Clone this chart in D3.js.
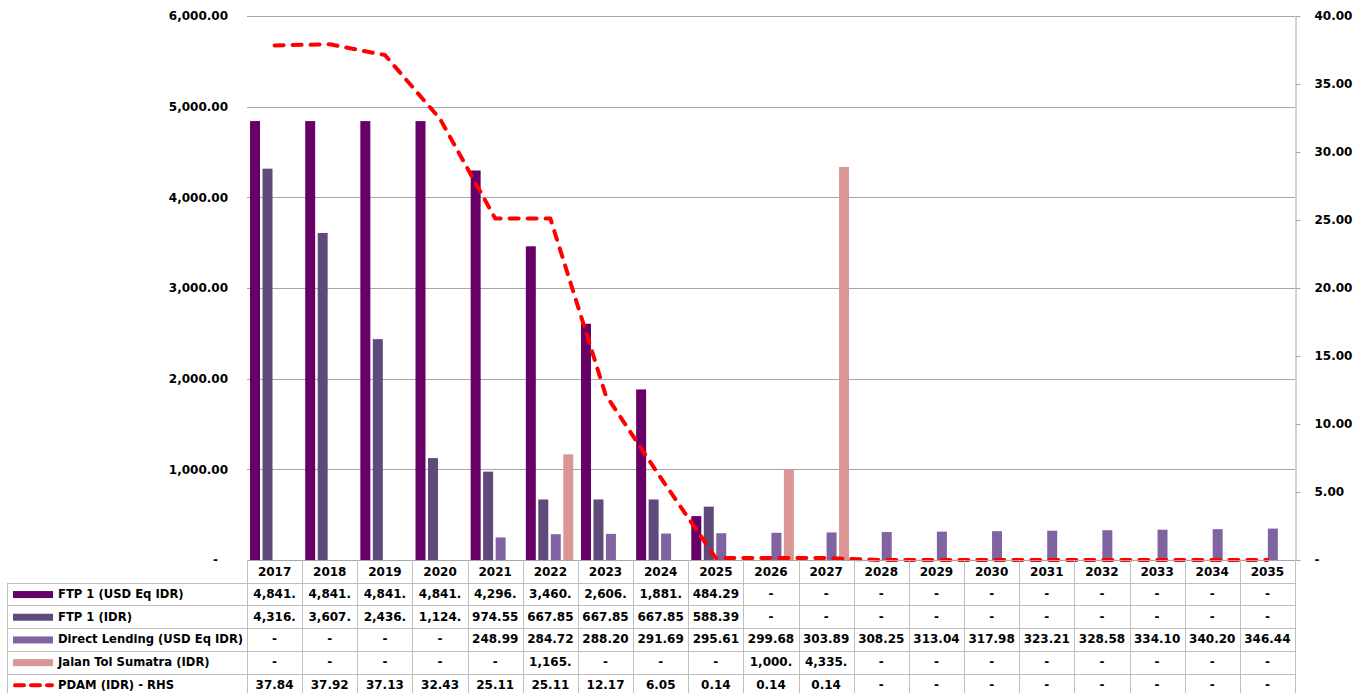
<!DOCTYPE html>
<html>
<head>
<meta charset="utf-8">
<script src="https://cdn.jsdelivr.net/npm/d3@7/dist/d3.min.js"></script>
<style>
  html, body { margin: 0; padding: 0; background: #fff; }
  svg { display: block; font-family: "DejaVu Sans", Verdana, sans-serif; font-weight: bold; }
</style>
</head>
<body>
<div id="chart"></div>
<script>
// ── Data ────────────────────────────────────────────────────────────────────
const years = ["2017","2018","2019","2020","2021","2022","2023","2024","2025","2026",
               "2027","2028","2029","2030","2031","2032","2033","2034","2035"];

const ftpUsd   = [4841.0, 4841.0, 4841.0, 4841.0, 4296.0, 3460.0, 2606.0, 1881.0, 484.29, 0, 0, 0, 0, 0, 0, 0, 0, 0, 0];
const ftpIdr   = [4316.0, 3607.0, 2436.0, 1124.0, 974.55, 667.85, 667.85, 667.85, 588.39, 0, 0, 0, 0, 0, 0, 0, 0, 0, 0];
const directLn = [0, 0, 0, 0, 248.99, 284.72, 288.20, 291.69, 295.61, 299.68, 303.89, 308.25, 313.04, 317.98, 323.21, 328.58, 334.10, 340.20, 346.44];
const jalanTol = [0, 0, 0, 0, 0, 1165.0, 0, 0, 0, 1000.0, 4335.0, 0, 0, 0, 0, 0, 0, 0, 0];
const pdam     = [37.84, 37.92, 37.13, 32.43, 25.11, 25.11, 12.17, 6.05, 0.14, 0.14, 0.14, 0, 0, 0, 0, 0, 0, 0, 0];

const barSeries = [
  { key: "ftpUsd", label: "FTP 1 (USD Eq IDR)",           color: "#660066", values: ftpUsd },
  { key: "ftpIdr", label: "FTP 1 (IDR)",                  color: "#604a7b", values: ftpIdr },
  { key: "dl",     label: "Direct Lending (USD Eq IDR)",  color: "#8064a2", values: directLn },
  { key: "jt",     label: "Jalan Tol Sumatra (IDR)",      color: "#d99694", values: jalanTol },
];
const lineSeries = { key: "pdam", label: "PDAM (IDR) - RHS", color: "#ff0000", values: pdam };

const leftTicks  = [0, 1000, 2000, 3000, 4000, 5000, 6000];
const rightTicks = [0, 5, 10, 15, 20, 25, 30, 35, 40];

// ── Layout ──────────────────────────────────────────────────────────────────
const W = 1366, H = 693;
const plot = { left: 247, right: 1295, top: 16, bottom: 560 };
const tableLeft = 7, rowH = 22.7;
const gridCol = "#a6a6a6", tableCol = "#bfbfbf";

const svg = d3.select("#chart").append("svg")
  .attr("width", W).attr("height", H)
  .attr("viewBox", `0 0 ${W} ${H}`);

const x0 = d3.scaleBand().domain(years).range([plot.left, plot.right]).paddingInner(0).paddingOuter(0);
const bw = x0.bandwidth();
const x1 = d3.scaleBand().domain(barSeries.map(s => s.key))
  .range([bw * 0.055, bw * 0.915]).paddingInner(0.2).paddingOuter(0);
const yL = d3.scaleLinear().domain([0, 6000]).range([plot.bottom, plot.top]);
const yR = d3.scaleLinear().domain([0, 40]).range([plot.bottom, plot.top]);

const fmtAxis = v => v === 0 ? "-" : d3.format(",.2f")(v);
const fmtCell = v => v === 0 ? "-" : d3.format(",.2f")(v).slice(0, 6);

// ── Gridlines ───────────────────────────────────────────────────────────────
svg.append("g").selectAll("line").data(leftTicks.filter(t => t > 0)).join("line")
  .attr("x1", plot.left).attr("x2", plot.right)
  .attr("y1", d => Math.round(yL(d)) + 0.5).attr("y2", d => Math.round(yL(d)) + 0.5)
  .attr("stroke", gridCol).attr("stroke-width", 1);

// ── Left axis ───────────────────────────────────────────────────────────────
const gL = svg.append("g").attr("transform", `translate(${plot.left - 19},0)`)
  .call(d3.axisLeft(yL).tickValues(leftTicks).tickFormat(fmtAxis).tickSize(0).tickPadding(0));
gL.select(".domain").remove();
gL.selectAll("text").attr("font-size", 12).attr("font-family", "DejaVu Sans").attr("font-weight", "bold").attr("fill", "#000");
gL.selectAll(".tick").filter(d => d === 0).select("text").attr("dx", -10);

// ── Right axis ──────────────────────────────────────────────────────────────
const gR = svg.append("g").attr("transform", `translate(${plot.right + 0.5},0)`)
  .call(d3.axisRight(yR).tickValues(rightTicks).tickFormat(fmtAxis).tickSizeInner(5).tickSizeOuter(0).tickPadding(14));
gR.select(".domain").attr("stroke", gridCol);
gR.selectAll(".tick line").attr("stroke", gridCol);
gR.selectAll("text").attr("font-size", 12).attr("font-family", "DejaVu Sans").attr("font-weight", "bold").attr("fill", "#000");

// ── Bars ────────────────────────────────────────────────────────────────────
barSeries.forEach(function (s) {
  svg.append("g").selectAll("rect").data(years.map((y, i) => ({ y, v: s.values[i] })).filter(d => d.v > 0))
    .join("rect")
    .attr("x", d => x0(d.y) + x1(s.key))
    .attr("y", d => yL(d.v))
    .attr("width", x1.bandwidth())
    .attr("height", d => yL(0) - yL(d.v))
    .attr("fill", s.color);
});

// ── PDAM line (RHS) ─────────────────────────────────────────────────────────
const line = d3.line()
  .x((d, i) => x0(years[i]) + bw / 2)
  .y(d => yR(d));
svg.append("path")
  .datum(lineSeries.values)
  .attr("d", line)
  .attr("fill", "none")
  .attr("stroke", lineSeries.color)
  .attr("stroke-width", 4)
  .attr("stroke-dasharray", "9,9")
  .attr("stroke-linecap", "round")
  .attr("stroke-linejoin", "round");

// ── Data table ──────────────────────────────────────────────────────────────
const rows = barSeries.concat([lineSeries]);
const tTop = plot.bottom;
const tBottom = tTop + rowH * (rows.length + 1);
const tbl = svg.append("g");

// horizontal lines
tbl.append("line").attr("x1", plot.left).attr("x2", plot.right)
  .attr("y1", tTop + 0.5).attr("y2", tTop + 0.5).attr("stroke", gridCol);
d3.range(1, rows.length + 1).forEach(function (r) {
  const yy = Math.round(tTop + r * rowH) + 0.5;
  tbl.append("line").attr("x1", tableLeft).attr("x2", plot.right)
    .attr("y1", yy).attr("y2", yy).attr("stroke", tableCol);
});
// vertical lines
years.forEach(function (y) {
  const xx = Math.round(x0(y)) + 0.5;
  tbl.append("line").attr("x1", xx).attr("x2", xx)
    .attr("y1", tTop).attr("y2", tBottom).attr("stroke", tableCol);
});
tbl.append("line").attr("x1", plot.right + 0.5).attr("x2", plot.right + 0.5)
  .attr("y1", tTop).attr("y2", tBottom).attr("stroke", tableCol);
tbl.append("line").attr("x1", tableLeft + 0.5).attr("x2", tableLeft + 0.5)
  .attr("y1", tTop + rowH).attr("y2", tBottom).attr("stroke", tableCol);

// header (years)
tbl.append("g").selectAll("text").data(years).join("text")
  .attr("x", d => x0(d) + bw / 2)
  .attr("y", tTop + rowH / 2 + 1)
  .attr("text-anchor", "middle").attr("dominant-baseline", "middle")
  .attr("font-size", 12).attr("fill", "#000")
  .text(d => d);

// rows
rows.forEach(function (s, r) {
  const cy = tTop + (r + 1) * rowH + rowH / 2 + 0.5;
  if (s.key === "pdam") {
    tbl.append("line").attr("x1", 15).attr("x2", 52)
      .attr("y1", cy).attr("y2", cy)
      .attr("stroke", s.color).attr("stroke-width", 4)
      .attr("stroke-dasharray", "9,7").attr("stroke-linecap", "round");
  } else {
    tbl.append("rect").attr("x", 13).attr("y", cy - 3.5)
      .attr("width", 40).attr("height", 7).attr("fill", s.color);
  }
  tbl.append("text").attr("x", 58).attr("y", cy)
    .attr("dominant-baseline", "middle").attr("font-size", 11.6).attr("fill", "#000")
    .text(s.label);
  tbl.append("g").selectAll("text").data(s.values).join("text")
    .attr("x", (d, i) => x0(years[i]) + bw / 2)
    .attr("y", cy)
    .attr("text-anchor", "middle").attr("dominant-baseline", "middle")
    .attr("font-size", 12).attr("fill", "#000")
    .text(d => fmtCell(d));
});
</script>
</body>
</html>
